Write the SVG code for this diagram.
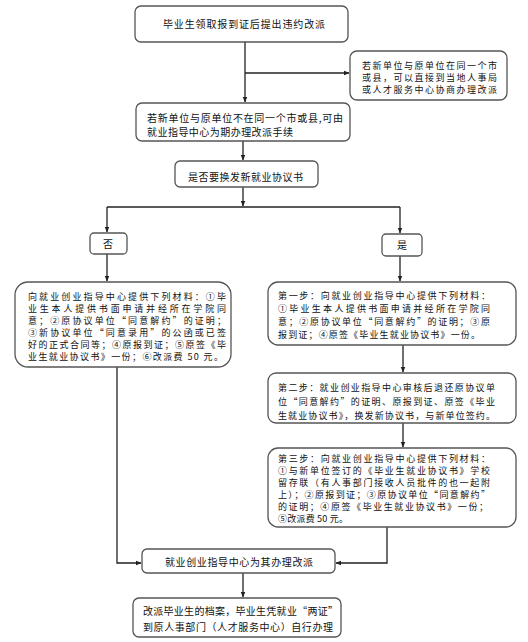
<svg xmlns="http://www.w3.org/2000/svg" width="528" height="642" viewBox="0 0 528 642">
<style>
.b{fill:#fff;stroke:#555;stroke-width:1.3}
.t{font-family:"Noto Sans CJK SC","Noto Sans",sans-serif;font-size:10px;fill:#111}
.s{font-size:9px}
.l{fill:none;stroke:#222;stroke-width:1.3}
</style>
<defs>
<marker id="a" viewBox="0 0 10 10" refX="9" refY="5" markerWidth="6" markerHeight="6" orient="auto" markerUnits="userSpaceOnUse"><path d="M0,1 L10,5 L0,9 z" fill="#222"/></marker>
</defs>
<rect width="528" height="642" fill="#fff"/>
<g id="connectors">
<path class="l" d="M245,42 V102" marker-end="url(#a)"/>
<path class="l" d="M245,73 H349" marker-end="url(#a)"/>
<path class="l" d="M243,141 V160" marker-end="url(#a)"/>
<path class="l" d="M243,187 V206" marker-end="url(#a)"/>
<path class="l" d="M107,207 H400"/>
<path class="l" d="M107,207 V232" marker-end="url(#a)"/>
<path class="l" d="M400,207 V233" marker-end="url(#a)"/>
<path class="l" d="M107,254 V281" marker-end="url(#a)"/>
<path class="l" d="M400,256 V281" marker-end="url(#a)"/>
<path class="l" d="M117,367 V563 H141" marker-end="url(#a)"/>
<path class="l" d="M403,345 V372" marker-end="url(#a)"/>
<path class="l" d="M403,423 V447" marker-end="url(#a)"/>
<path class="l" d="M387,527 V563 H336" marker-end="url(#a)"/>
<path class="l" d="M243,573 V597" marker-end="url(#a)"/>
</g>
<g id="n1"><rect class="b" x="135" y="6" width="213" height="36" rx="6"/><text class="t" x="163" y="28" textLength="162">毕业生领取报到证后提出违约改派</text></g>
<g id="n2"><rect class="b" x="350" y="51" width="157" height="49" rx="7"/>
<text class="t s" x="362" y="69" textLength="135">若新单位与原单位在同一个市</text>
<text class="t s" x="362" y="81" textLength="135">或县，可以直接到当地人事局</text>
<text class="t s" x="362" y="93" textLength="135">或人才服务中心协商办理改派</text></g>
<g id="n3"><rect class="b" x="136" y="103" width="214" height="38" rx="6"/>
<text class="t" x="147" y="122" textLength="196">若新单位与原单位不在同一个市或县,可由</text>
<text class="t" x="147" y="136" textLength="146">就业指导中心为期办理改派手续</text></g>
<g id="n4"><rect class="b" x="175" y="161" width="143" height="26" rx="5"/><text class="t" x="188" y="181" textLength="115">是否要换发新就业协议书</text></g>
<g id="n5"><rect class="b" x="90" y="233" width="37" height="21" rx="4"/><text class="t" x="103" y="248">否</text></g>
<g id="n6"><rect class="b" x="382" y="234" width="40" height="22" rx="4"/><text class="t" x="397" y="249">是</text></g>
<g id="n7"><rect class="b" x="15" y="282" width="216" height="85" rx="13"/>
<text class="t s" x="28" y="300" textLength="198">向就业创业指导中心提供下列材料：①毕</text>
<text class="t s" x="28" y="312" textLength="198">业生本人提供书面申请并经所在学院同</text>
<text class="t s" x="28" y="324" textLength="198">意；②原协议单位“同意解约”的证明；</text>
<text class="t s" x="28" y="336" textLength="198">③新协议单位“同意录用”的公函或已签</text>
<text class="t s" x="28" y="348" textLength="198">好的正式合同等；④原报到证；⑤原签《毕</text>
<text class="t s" x="28" y="360" textLength="195">业生就业协议书》一份；⑥改派费 50 元。</text></g>
<g id="n8"><rect class="b" x="268" y="282" width="248" height="63" rx="10"/>
<text class="t s" x="278" y="299" textLength="212">第一步：向就业创业指导中心提供下列材料：</text>
<text class="t s" x="278" y="312" textLength="212">①毕业生本人提供书面申请并经所在学院同</text>
<text class="t s" x="278" y="325" textLength="212">意；②原协议单位“同意解约”的证明；③原</text>
<text class="t s" x="278" y="338" textLength="202">报到证；④原签《毕业生就业协议书》一份。</text></g>
<g id="n9"><rect class="b" x="268" y="373" width="248" height="50" rx="8"/>
<text class="t s" x="278" y="391" textLength="217">第二步：就业创业指导中心审核后退还原协议单</text>
<text class="t s" x="278" y="405" textLength="217">位“同意解约”的证明、原报到证、原签《毕业</text>
<text class="t s" x="278" y="419" textLength="217">生就业协议书》，换发新协议书，与新单位签约。</text></g>
<g id="n10"><rect class="b" x="268" y="448" width="248" height="79" rx="10"/>
<text class="t s" x="278" y="462" textLength="212">第三步：向就业创业指导中心提供下列材料：</text>
<text class="t s" x="278" y="474" textLength="212">①与新单位签订的《毕业生就业协议书》学校</text>
<text class="t s" x="278" y="486" textLength="212">留存联（有人事部门接收人员批件的也一起附</text>
<text class="t s" x="278" y="498" textLength="212">上）；②原报到证；③原协议单位“同意解约”</text>
<text class="t s" x="278" y="510" textLength="210">的证明；④原签《毕业生就业协议书》一份；</text>
<text class="t s" x="278" y="522" textLength="70">⑤改派费 50 元。</text></g>
<g id="n11"><rect class="b" x="142" y="549" width="193" height="24" rx="5"/><text class="t" x="165" y="566" textLength="148">就业创业指导中心为其办理改派</text></g>
<g id="n12"><rect class="b" x="133" y="598" width="208" height="39" rx="6"/>
<text class="t" x="143" y="615" textLength="195">改派毕业生的档案，毕业生凭就业“两证”</text>
<text class="t" x="143" y="631" textLength="190">到原人事部门（人才服务中心）自行办理</text></g>
</svg>
